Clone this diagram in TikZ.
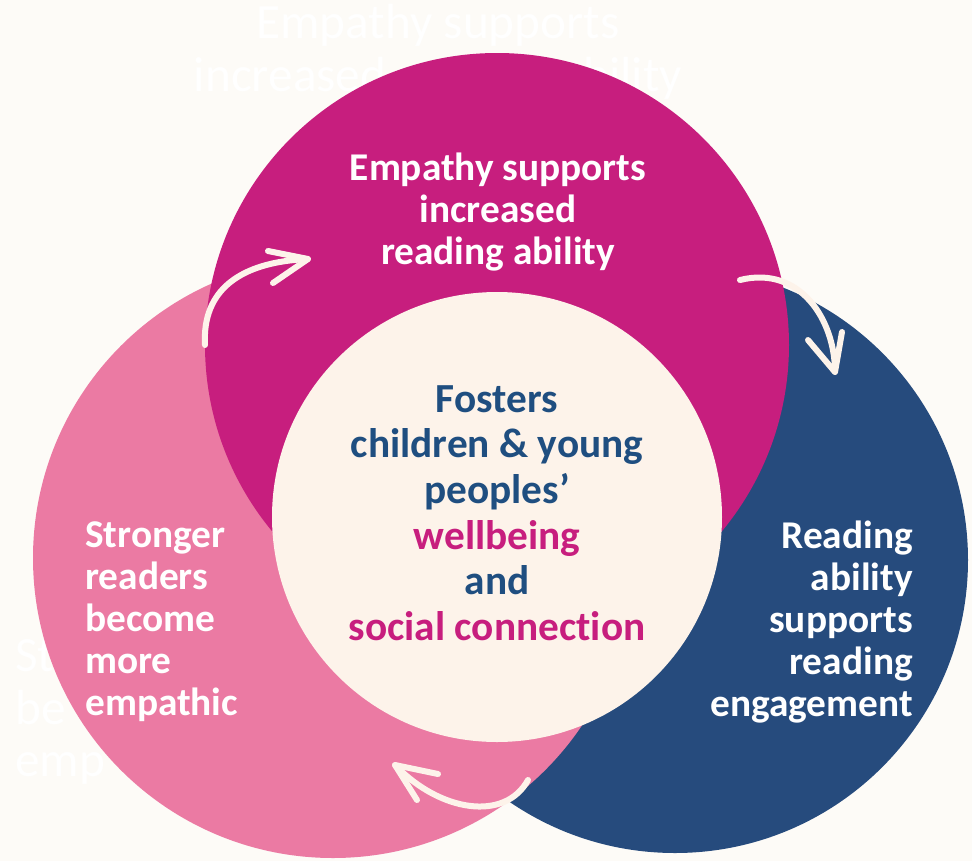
\documentclass[tikz,border=0pt]{standalone}
\usepackage{fontspec}
\setmainfont{Carlito}[Ligatures={NoCommon}]
\definecolor{bgc}{HTML}{FDFBF7}
\definecolor{magc}{HTML}{C71E7E}
\definecolor{pinkc}{HTML}{EB7AA3}
\definecolor{bluec}{HTML}{264B7D}
\definecolor{creamc}{HTML}{FDF3EA}
\definecolor{navyc}{HTML}{1F4E80}
\begin{document}
\begin{tikzpicture}[x=0.75pt,y=-0.75pt,
  outer/.style={text=white,font=\fontsize{29.5pt}{31.5pt}\selectfont\bfseries,inner sep=0pt},
  ghost/.style={text=white,font=\fontsize{37pt}{39.5pt}\selectfont,inner sep=0pt},
  inner/.style={text=navyc,font=\fontsize{31pt}{34.2pt}\selectfont\bfseries,inner sep=0pt,align=center},
  arr/.style={draw=creamc,line width=4.5pt,line cap=round,line join=round}]
\useasboundingbox (0,0) rectangle (972,861);
\fill[bgc] (0,0) rectangle (972,861);
% faint ghost texts behind the circles
\node[ghost,align=center] (ghosttop) at (438,52) {Empathy supports\\increased reading ability};
\node[ghost,align=left,anchor=west] (ghostleft) at (15,712) {St\\be\\emp};
% circles
\fill[bluec] (675,560) circle[radius=293];
\fill[pinkc] (333,558) circle[radius=300];
\fill[magc] (497,345) circle[radius=292];
\fill[creamc] (497,517) circle[radius=225];
% arrows
\coordinate (a1s) at (205,345); \coordinate (a1t) at (308,259);
\coordinate (a1u) at (268,251); \coordinate (a1d) at (273,283);
\draw[arr] (a1s) .. controls (202,290) and (240,262) .. (a1t);
\draw[arr] (a1u) -- (a1t) -- (a1d);
\coordinate (a2s) at (740,280); \coordinate (a2t) at (835,372);
\coordinate (a2u) at (808,340); \coordinate (a2d) at (842,332);
\draw[arr] (a2s) .. controls (800,265) and (835,320) .. (a2t);
\draw[arr] (a2u) -- (a2t) -- (a2d);
\coordinate (a3s) at (528,780); \coordinate (a3t) at (395,765);
\coordinate (a3u) at (438,774); \coordinate (a3d) at (417,800);
\draw[arr] (a3s) .. controls (505,822) and (440,812) .. (a3t);
\draw[arr] (a3u) -- (a3t) -- (a3d);
% texts
\node[outer,align=center] (top) at (498,212) {Empathy supports\\increased\\reading ability};
\node[outer,align=left,anchor=west] (left) at (85,622) {Stronger\\readers\\become\\more\\empathic};
\node[outer,align=right,anchor=east] (right) at (913,622) {Reading\\ability\\supports\\reading\\engagement};
\node[inner] (center) at (497,513) {Fosters\\children \& young\\peoples’\\\textcolor{magc}{wellbeing}\\and\\\textcolor{magc}{social connection}};
\end{tikzpicture}
\end{document}
